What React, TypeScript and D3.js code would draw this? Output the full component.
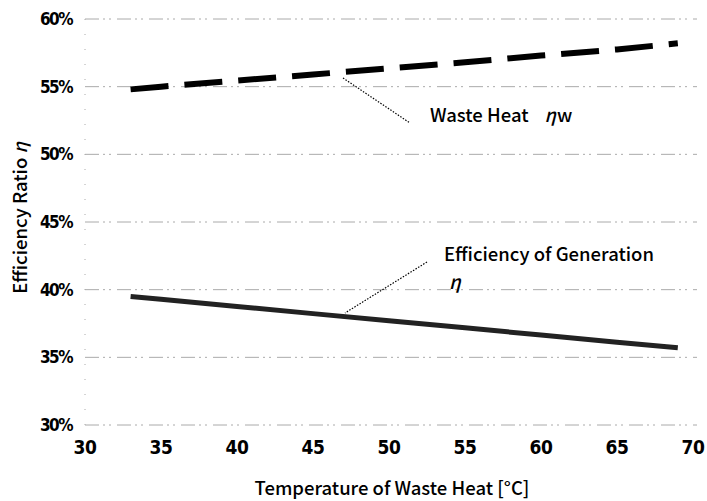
import React from 'react';
import * as d3 from 'd3';

const temps = [33, 35, 40, 45, 50, 55, 60, 65, 69];
const wasteHeat = [54.8, 55.0, 55.45, 55.9, 56.35, 56.8, 57.3, 57.75, 58.2];
const generation = [39.5, 39.29, 38.76, 38.23, 37.71, 37.18, 36.65, 36.12, 35.7];
const xTicks = [30, 35, 40, 45, 50, 55, 60, 65, 70];
const yTicks = [30, 35, 40, 45, 50, 55, 60];

const W = 707;
const H = 501;
const tickFont = "'DejaVu Sans Condensed', Arial, sans-serif";
const font = "'Noto Sans CJK JP', 'Noto Sans', sans-serif";

export default function App() {
  const x = d3.scaleLinear().domain([30, 70]).range([85, 693]);
  const y = d3.scaleLinear().domain([30, 60]).range([425, 19]);

  const line = d3
    .line<number>()
    .x((_, i) => x(temps[i]))
    .y((d) => y(d));

  return (
    <svg width={W} height={H} style={{ position: 'absolute', left: 0, top: 0, background: '#fff' }}>
      {/* grid */}
      {yTicks.map((t) => (
        <line
          key={t}
          x1={x(30)}
          x2={x(70) + 4}
          y1={y(t)}
          y2={y(t)}
          stroke="#aaa"
          strokeWidth={1}
          strokeDasharray="14 4 2 4 2 6"
        />
      ))}
      <line x1={x(30)} x2={x(30)} y1={y(60)} y2={y(30)} stroke="#aaa" strokeDasharray="1 14" />

      {/* y tick labels */}
      {yTicks.map((t) => (
        <text
          key={t}
          x={72}
          y={y(t)}
          dy="0.36em"
          textAnchor="end"
          fontFamily={tickFont}
          fontWeight="bold"
          fontSize={17}
          letterSpacing={-1.5}
        >
          {t}%
        </text>
      ))}
      {/* x tick labels */}
      {xTicks.map((t) => (
        <text
          key={t}
          x={x(t)}
          y={454}
          textAnchor="middle"
          fontFamily={tickFont}
          fontWeight="bold"
          fontSize={19}
          letterSpacing={-0.5}
        >
          {t}
        </text>
      ))}

      {/* series */}
      <path
        d={line(wasteHeat) || ''}
        fill="none"
        stroke="#000"
        strokeWidth={6}
        strokeDasharray="38 16"
      />
      <path d={line(generation) || ''} fill="none" stroke="#222" strokeWidth={5} />

      {/* annotations */}
      <line x1={343} y1={78} x2={410} y2={123} stroke="#000" strokeWidth={1.2} strokeDasharray="1.5 1.5" />
      <text x={430} y={122} fontFamily={font} fontWeight={500} fontSize={18.5}>
        Waste Heat
        <tspan dx={16} fontStyle="italic">η</tspan>
        <tspan dx={1}>w</tspan>
      </text>
      <line x1={427} y1={262} x2={345} y2={313} stroke="#000" strokeWidth={1.2} strokeDasharray="1.5 1.5" />
      <text x={444} y={261} fontFamily={font} fontWeight={500} fontSize={18.5}>
        Efficiency of Generation
      </text>
      <text x={449} y={289} fontFamily={font} fontWeight={500} fontStyle="italic" fontSize={19}>
        η
      </text>

      {/* axis titles */}
      <text x={392} y={495} textAnchor="middle" fontFamily={font} fontWeight={500} fontSize={18.5}>
        Temperature of Waste Heat [°C]
      </text>
      <text
        transform={`translate(27,${218}) rotate(-90)`}
        textAnchor="middle"
        fontFamily={font}
        fontWeight={500}
        fontSize={18.5}
      >
        Efficiency Ratio <tspan fontStyle="italic">η</tspan>
      </text>
    </svg>
  );
}
